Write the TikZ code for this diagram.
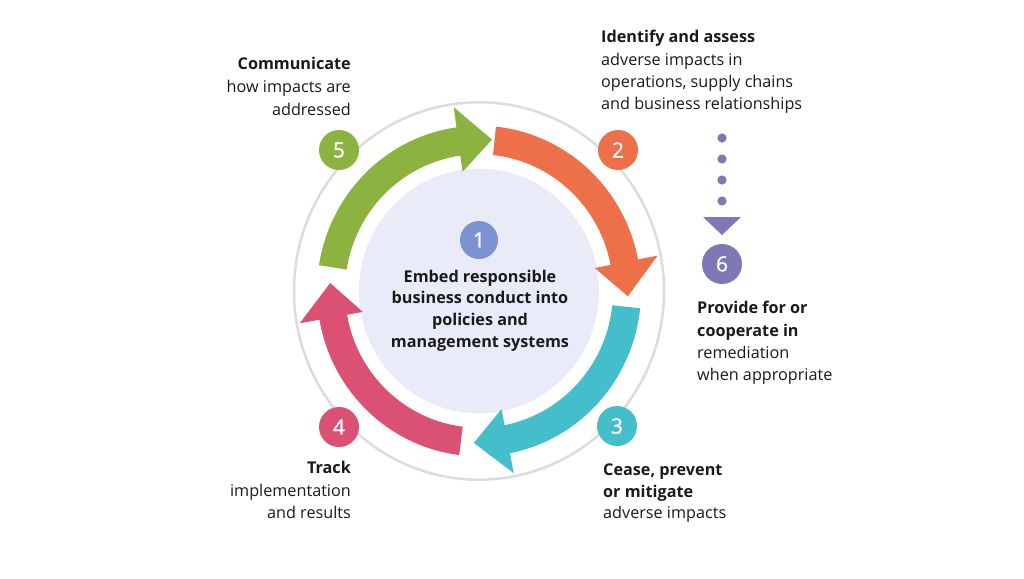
\documentclass[tikz,border=0pt]{standalone}
\usepackage{fontspec}
\setmainfont{Open Sans}
\newfontfamily\numfont[FakeBold=1.2]{Open Sans}
\definecolor{cgreen}{HTML}{8CB23F}
\definecolor{corange}{HTML}{EE7049}
\definecolor{cteal}{HTML}{45BECB}
\definecolor{cpink}{HTML}{DA5174}
\definecolor{cpurple}{HTML}{7C79B6}
\definecolor{cblue}{HTML}{7B93D0}
\definecolor{clight}{HTML}{E9ECF8}
\definecolor{cgray}{HTML}{DCDCDC}
\definecolor{ctext}{HTML}{1A1A1A}
\newcommand\ringarrow[2]{%
  \fill[#1] (#2:162) arc[start angle=#2, end angle=#2-73, radius=162]
    -- ({#2-73}:182) -- ({#2-86}:149) -- ({#2-73}:118) -- ({#2-73}:134)
    arc[start angle=#2-73, end angle=#2, radius=134] -- cycle;}
\begin{document}
\begin{tikzpicture}[x=1pt,y=-1pt,
  num/.style={circle, minimum size=40pt, inner sep=0pt, text=white, font=\numfont\fontsize{21}{21}\selectfont},
  lbl/.style={inner sep=0pt, text=ctext, font=\fontsize{16.2}{16}\selectfont},
  blbl/.style={inner sep=0pt, text=ctext, font=\fontsize{16.2}{16}\selectfont\bfseries}]
\useasboundingbox[fill=white] (0,0) rectangle (1024,578);

\begin{scope}[shift={(479,291)}, x=1pt, y=1.02pt]
  \draw[cgray, line width=2.5pt] (0,0) circle[radius=185];
  \fill[clight] (0,0) circle[radius=120];
  \ringarrow{corange}{84}
  \ringarrow{cteal}{-6}
  \ringarrow{cpink}{-97}
  \ringarrow{cgreen}{171}
\end{scope}

% numbered circles
\node[num, fill=cblue, minimum size=38pt] (n1) at (479,240) {1};
\node[num, fill=corange] (n2) at (618,150) {2};
\node[num, fill=cteal] (n3) at (617,426) {3};
\node[num, fill=cpink] (n4) at (339,427) {4};
\node[num, fill=cgreen] (n5) at (339,150) {5};
\node[num, fill=cpurple] (n6) at (722,264) {6};

% dotted link to 6
\foreach \yy in {138,159,180,201} \fill[cpurple] (722,\yy) circle[radius=4.6];
\fill[cpurple] (703,217) -- (741,217) -- (722,235) -- cycle;

% centre text
\node[blbl, anchor=base] (c1) at (480,282) {Embed responsible};
\node[blbl, anchor=base] (c2) at (480,303.5) {business conduct into};
\node[blbl, anchor=base] (c3) at (480,325.5) {policies and};
\node[blbl, anchor=base] (c4) at (480,347) {management systems};

% step 2
\node[blbl, anchor=base west] (t2a) at (601,43) {Identify and assess};
\node[lbl, anchor=base west] (t2b) at (601,65) {adverse impacts in};
\node[lbl, anchor=base west] (t2c) at (601,87) {operations, supply chains};
\node[lbl, anchor=base west] (t2d) at (601,109) {and business relationships};

% step 5
\node[blbl, anchor=base east] (t5a) at (351,69) {Communicate};
\node[lbl, anchor=base east] (t5b) at (351,92) {how impacts are};
\node[lbl, anchor=base east] (t5c) at (351,115) {addressed};

% step 6
\node[blbl, anchor=base west] (t6a) at (697,313) {Provide for or};
\node[blbl, anchor=base west] (t6b) at (697,336) {cooperate in};
\node[lbl, anchor=base west] (t6c) at (697,358) {remediation};
\node[lbl, anchor=base west] (t6d) at (697,380) {when appropriate};

% step 4
\node[blbl, anchor=base east] (t4a) at (351,473) {Track};
\node[lbl, anchor=base east] (t4b) at (351,496) {implementation};
\node[lbl, anchor=base east] (t4c) at (351,518) {and results};

% step 3
\node[blbl, anchor=base west] (t3a) at (603,475) {Cease, prevent};
\node[blbl, anchor=base west] (t3b) at (603,497) {or mitigate};
\node[lbl, anchor=base west] (t3c) at (603,518) {adverse impacts};
\end{tikzpicture}
\end{document}
